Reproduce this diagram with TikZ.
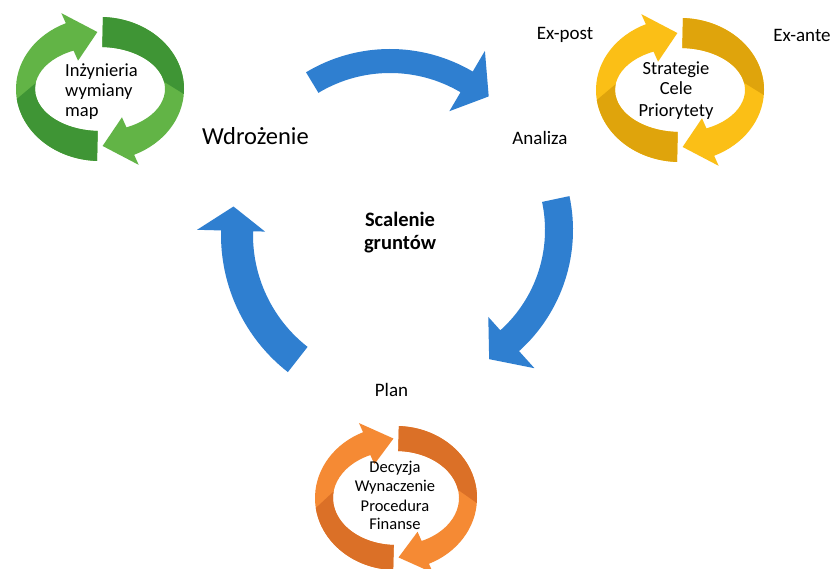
\documentclass[tikz,border=0pt]{standalone}
\usepackage{fontspec}
\setmainfont{Carlito}
\definecolor{arrowblue}{HTML}{2F7FD0}
\definecolor{greenlight}{HTML}{62B446}
\definecolor{greendark}{HTML}{3F9535}
\definecolor{yellowlight}{HTML}{FBBF16}
\definecolor{yellowdark}{HTML}{DFA40C}
\definecolor{orangelight}{HTML}{F58A34}
\definecolor{orangedark}{HTML}{DB7027}

% One ribbon of a cycle: centre (#1,#2), tail angle #3, head base angle #4,
% tip angle #5, twist seam at #6 (outer) / #7 (inner), colours #8 and #9.
% Radii are taken from \rxo, \ryo, \rxi, \ryi; \hd is the barb overhang.
\newcommand\ringarrow[9]{%
  \fill[#8] ({#1+\rxo*cos(#3)},{#2+\ryo*sin(#3)})
    arc[start angle=#3,end angle=#4,x radius=\rxo,y radius=\ryo]
    -- ({#1+(\rxo+\hd)*cos(#4)},{#2+(\ryo+\hd)*sin(#4)})
    -- ({#1+(\rxo+\rxi)/2*cos(#5)},{#2+(\ryo+\ryi)/2*sin(#5)})
    -- ({#1+(\rxi-\hd)*cos(#4)},{#2+(\ryi-\hd)*sin(#4)})
    -- ({#1+\rxi*cos(#4)},{#2+\ryi*sin(#4)})
    arc[start angle=#4,end angle=#3,x radius=\rxi,y radius=\ryi] -- cycle;
  \fill[#9] ({#1+\rxo*cos(#3)},{#2+\ryo*sin(#3)})
    arc[start angle=#3,end angle=#6,x radius=\rxo,y radius=\ryo]
    -- ({#1+\rxi*cos(#7)},{#2+\ryi*sin(#7)})
    arc[start angle=#7,end angle=#3,x radius=\rxi,y radius=\ryi] -- cycle;
}

% Thick curved block arrow: centre (#1,#2), tail angle #3, head base angle #4,
% tip angle #5, band radii #6/#7, barb radii #8/#9.
\newcommand\bendarrow[9]{%
  \begin{scope}[shift={(#1,#2)}]
    \fill[arrowblue] (#3:#7) arc[start angle=#3,end angle=#4,radius=#7]
      -- (#4:#9) -- (#5:{(#8+#9)/2}) -- (#4:#8) -- (#4:#6)
      arc[start angle=#4,end angle=#3,radius=#6] -- cycle;
  \end{scope}}

\tikzset{
  lbl/.style={inner sep=0pt,anchor=base,font=\fontsize{19}{23}\selectfont},
  biglbl/.style={inner sep=0pt,anchor=base,font=\fontsize{24.5}{29}\selectfont},
  hub/.style={inner sep=0pt,anchor=base,font=\fontsize{20.5}{24}\selectfont\bfseries},
  ringtxt/.style={inner sep=0pt,anchor=base,font=\fontsize{18.5}{22}\selectfont},
  smalltxt/.style={inner sep=0pt,anchor=base,font=\fontsize{16.5}{20}\selectfont}
}

\begin{document}
\begin{tikzpicture}[x=1pt,y=1pt]
\useasboundingbox[fill=white] (0,0) rectangle (834,569);

% the three big blue arrows of the main cycle
\bendarrow{390}{357}{121}{59.5}{49.5}{139}{163}{117}{187}
\bendarrow{410}{339}{12}{-48}{-58.5}{135}{163}{117}{186}
\bendarrow{395}{334}{232}{178.5}{170}{142}{174}{130}{198}

% green cycle
\def\rxo{84}\def\ryo{72}\def\rxi{65}\def\ryi{42}\def\hd{11}
\ringarrow{100}{480}{268}{114}{92}{188}{172}{greenlight}{greendark}
\ringarrow{100}{480}{88}{-66}{-88}{-4}{10}{greenlight}{greendark}

% yellow cycle
\ringarrow{680}{479}{268}{114}{92}{188}{172}{yellowlight}{yellowdark}
\ringarrow{680}{479}{88}{-66}{-88}{-4}{10}{yellowlight}{yellowdark}

% orange cycle
\def\rxo{81}\def\ryo{72}\def\rxi{63}\def\ryi{47}\def\hd{10}
\ringarrow{396}{71}{268}{114}{92}{188}{172}{orangelight}{orangedark}
\ringarrow{396}{71}{88}{-66}{-88}{-4}{10}{orangelight}{orangedark}

% stage labels
\node[biglbl] (impl) at (255.5,424) {Wdrożenie};
\node[lbl] (anal) at (540,424) {Analiza};
\node[lbl] (expost) at (565,529) {Ex-post};
\node[lbl] (exante) at (802,527) {Ex-ante};
\node[lbl] (plan) at (391.5,172) {Plan};

% centre
\node[hub] (hub1) at (400,342) {Scalenie};
\node[hub] (hub2) at (400,319) {gruntów};

% text inside the green cycle
\node[ringtxt,anchor=base west] (g1) at (65,492) {Inżynieria};
\node[ringtxt,anchor=base west] (g2) at (65,472) {wymiany};
\node[ringtxt,anchor=base west] (g3) at (65,452) {map};

% text inside the yellow cycle
\node[ringtxt] (y1) at (676,494) {Strategie};
\node[ringtxt] (y2) at (676,474) {Cele};
\node[ringtxt] (y3) at (676,452) {Priorytety};

% text inside the orange cycle
\node[smalltxt] (o1) at (395,96) {Decyzja};
\node[smalltxt] (o2) at (395,77) {Wynaczenie};
\node[smalltxt] (o3) at (395,57) {Procedura};
\node[smalltxt] (o4) at (395,39) {Finanse};
\end{tikzpicture}
\end{document}
